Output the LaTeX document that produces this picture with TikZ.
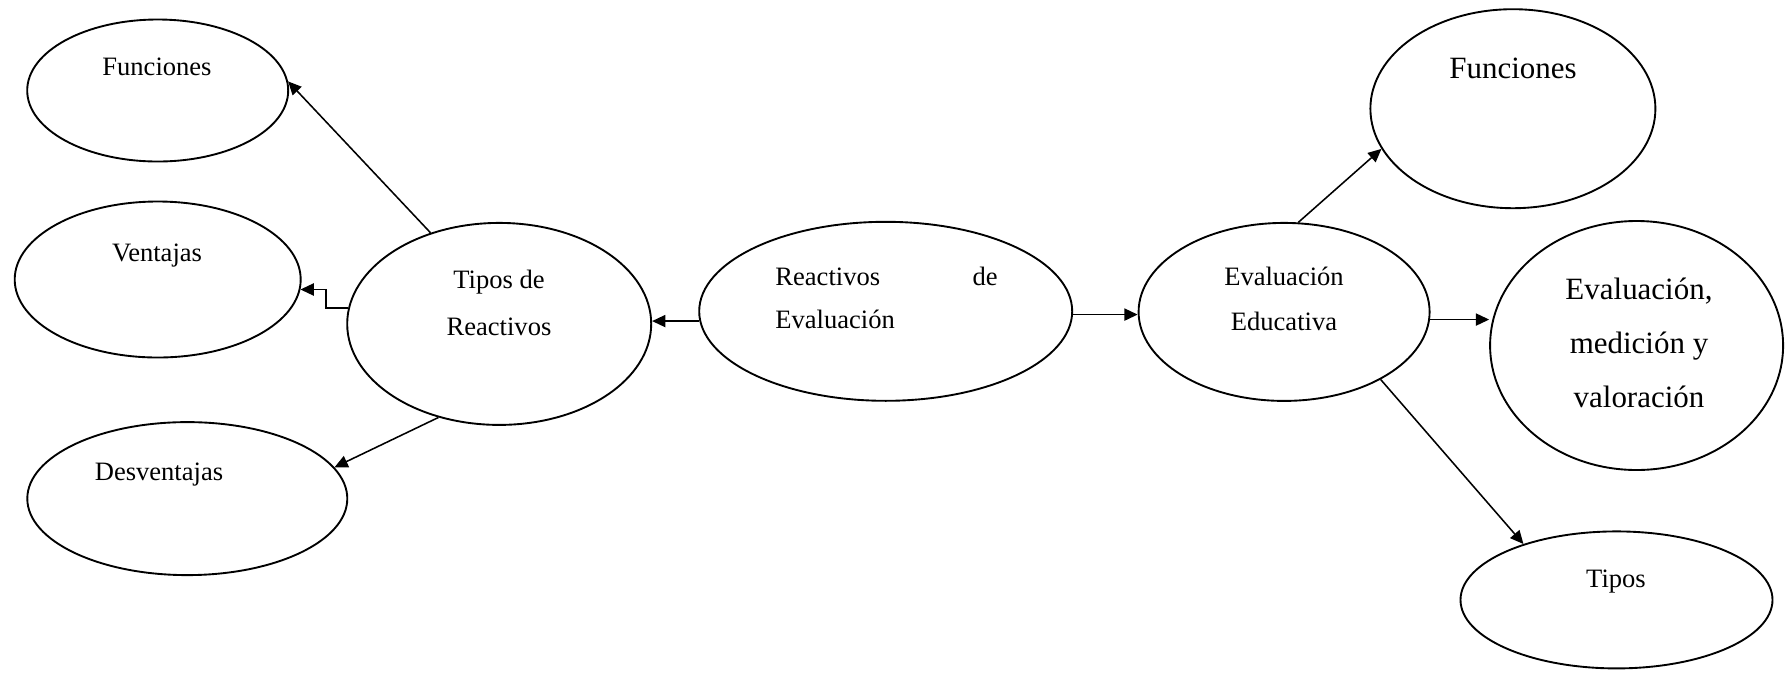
\documentclass[tikz,border=0pt]{standalone}
\usepackage{fontspec}
\setmainfont{Liberation Serif}
\usetikzlibrary{shapes.geometric,arrows.meta}
\newdimen\px \px=0.452pt
\begin{document}
\begin{tikzpicture}[x=0.452pt,y=-0.452pt,
  oval/.style={draw, ellipse, line width=0.85pt, inner sep=0pt},
  txt/.style={font=\fontsize{12}{14}\selectfont, anchor=base, inner sep=0pt},
  big/.style={font=\fontsize{14}{16}\selectfont, anchor=base, inner sep=0pt},
  arr/.style={-{Triangle[length=6pt,width=5.5pt]}, line width=0.7pt}]
 \useasboundingbox (0,0) rectangle (1785,672);
 \node[oval, minimum width=261\px, minimum height=142\px] (funizq) at (157.7,90.5) {};
 \node[oval, minimum width=286\px, minimum height=156\px] (ventajas) at (157.7,279.5) {};
 \node[oval, minimum width=320\px, minimum height=153\px] (desventajas) at (187.3,498.6) {};
 \node[oval, minimum width=304\px, minimum height=202\px] (tipos) at (499.2,323.9) {};
 \node[oval, minimum width=373\px, minimum height=179\px] (reactivos) at (885.7,311.3) {};
 \node[oval, minimum width=291\px, minimum height=178\px] (evaluacion) at (1284.1,311.9) {};
 \node[oval, minimum width=285\px, minimum height=199\px] (funder) at (1512.9,108.7) {};
 \node[oval, minimum width=293\px, minimum height=249\px] (medicion) at (1636.6,345.5) {};
 \node[oval, minimum width=312\px, minimum height=137\px] (tiposder) at (1616.5,599.9) {};

 \node[txt] (tfunizq) at (157,75) {Funciones};
 \node[txt] (tventajas) at (157,261) {Ventajas};
 \node[txt] (tdesventajas) at (159,480) {Desventajas};
 \node[txt] (ttipos1) at (499,288) {Tipos de};
 \node[txt] (ttipos2) at (499,335) {Reactivos};
 \node[txt, anchor=base west] (treact1) at (775,285) {Reactivos};
 \node[txt, anchor=base east] (treact2) at (998,285) {de};
 \node[txt, anchor=base west] (treact3) at (775,328) {Evaluación};
 \node[txt] (teval1) at (1284,285) {Evaluación};
 \node[txt] (teval2) at (1284,330) {Educativa};
 \node[big] (tfunder) at (1513,78) {Funciones};
 \node[big] (tmed1) at (1639,299) {Evaluación,};
 \node[big] (tmed2) at (1639,353) {medición y};
 \node[big] (tmed3) at (1639,407) {valoración};
 \node[txt] (ttiposder) at (1616,587) {Tipos};

 \draw[arr] (tipos.127) -- (funizq.4);
 \draw[arr] (tipos.174) -- ++(-22,0) |- (ventajas.-4);
 \draw[arr] (tipos.-123) -- (desventajas.12);
 \draw[arr] (reactivos.183) -- (reactivos.183 -| tipos.east);
 \draw[arr] (reactivos.-1) -- (reactivos.-1 -| evaluacion.west);
 \draw[arr] (evaluacion.81) -- (funder.-163);
 \draw[arr] (evaluacion.-3) -- (evaluacion.-3 -| medicion.west);
 \draw[arr] (evaluacion.-35) -- (tiposder.149);
\end{tikzpicture}
\end{document}
